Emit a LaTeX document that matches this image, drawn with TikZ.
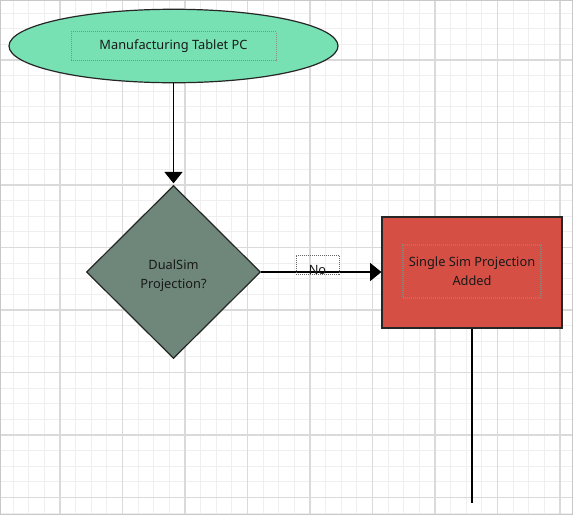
\documentclass[tikz,border=0pt]{standalone}
\usepackage{fontspec}
\setmainfont{Noto Sans}
\usetikzlibrary{shapes.geometric,arrows.meta}
\definecolor{gminor}{HTML}{EFEFEF}
\definecolor{gmajor}{HTML}{DADADA}
\definecolor{gborder}{HTML}{C8C8C8}
\definecolor{mint}{HTML}{77E1B4}
\definecolor{sage}{HTML}{6E877A}
\definecolor{brick}{HTML}{D64F45}
\definecolor{dotgray}{HTML}{8C8C8C}
\definecolor{dotgreen}{HTML}{7A8C82}
\tikzset{
  minorline/.style={draw=gminor, line width=0.75pt},
  majorline/.style={draw=gmajor, line width=1.3pt},
  shapeline/.style={draw=black!85, line width=0.9pt},
  txt/.style={inner sep=0pt, align=center, font=\fontsize{9.6}{14.3}\selectfont, text=black!90},
  tbox/.style={txt, draw=dotgray, dash pattern=on 0.75pt off 0.75pt, line width=0.75pt},
  conn/.style={draw=black, line width=1.1pt},
  arrowconn/.style={conn, -{Triangle[length=8.5pt,width=13.5pt]}},
}
\begin{document}
\begin{tikzpicture}[x=0.75pt,y=-0.75pt]
\useasboundingbox (0,0) rectangle (573,515);
\fill[white] (0,0) rectangle (573,515);
\foreach \i in {1,...,37} {
  \draw[minorline] ({-2.5+15.625*\i},0) -- ({-2.5+15.625*\i},515);
}
\foreach \i in {1,...,33} {
  \draw[minorline] (0,{-2.5+15.625*\i}) -- (573,{-2.5+15.625*\i});
}
\foreach \i in {1,...,9} {
  \draw[majorline] ({-2.5+62.5*\i},0) -- ({-2.5+62.5*\i},515);
}
\foreach \i in {1,...,8} {
  \draw[majorline] (0,{-2.5+62.5*\i}) -- (573,{-2.5+62.5*\i});
}
\draw[draw=gborder, line width=1.2pt] (0.6,0.6) rectangle (572.4,514.4);

% start ellipse
\node[ellipse, shapeline, fill=mint, inner sep=0pt, minimum width=246.75pt, minimum height=55.1pt] (start) at (173.5,46) {};
\node[tbox, minimum width=153.75pt, minimum height=21.75pt] (startlbl) at (173.5,46) {Manufacturing Tablet PC};

% decision diamond
\node[diamond, shapeline, fill=sage, inner sep=0pt, minimum width=130.5pt, minimum height=129.75pt] (dec) at (173.5,272) {};
\node[txt] (declbl) at (173.5,276) {DualSim\\Projection?};

% process rectangle
\node[rectangle, shapeline, fill=brick, inner sep=0pt, minimum width=135pt, minimum height=83.25pt] (proc) at (472,272.5) {};
\node[tbox, draw=dotgreen, line width=0.9pt, minimum width=103.5pt, minimum height=39.75pt] (proclbl) at (472,271.5) {Single Sim Projection\\Added};

\coordinate (tail) at (472,503);

% connectors
\draw[arrowconn, shorten >=1.2pt] (start.south) -- (dec.north);
\draw[arrowconn] (dec.east) -- (dec.east -| proc.west);
\draw[conn] (proc.south) -- (tail);

% label No
\node[draw=black!60, dash pattern=on 0.75pt off 0.75pt, line width=0.6pt, inner sep=0pt, minimum width=32.25pt, minimum height=14.25pt] (nobox) at (317.5,264.5) {};
\node[txt] (nolbl) at (317.5,270) {No};
\end{tikzpicture}
\end{document}
